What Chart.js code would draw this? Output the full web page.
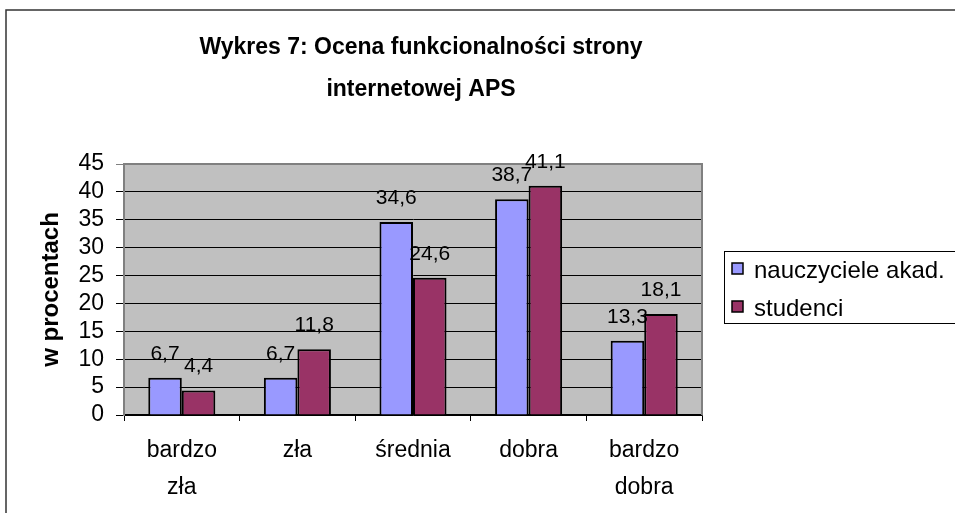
<!DOCTYPE html>
<html>
<head>
<meta charset="utf-8">
<script src="https://cdn.jsdelivr.net/npm/chart.js@4/dist/chart.umd.min.js"></script>
<style>
  html, body { margin: 0; padding: 0; background: #fff; }
</style>
</head>
<body>
<canvas id="myChart" width="955" height="513"></canvas>
<script>
// --- data
const categories = [['bardzo', 'zła'], 'zła', 'średnia', 'dobra', ['bardzo', 'dobra']];
const teachers = [6.7, 6.7, 34.6, 38.7, 13.3];
const students = [4.4, 11.8, 24.6, 41.1, 18.1];
const seriesNames = ['nauczyciele akad.', 'studenci'];
const titleLines = ['Wykres 7: Ocena funkcionalności strony', 'internetowej APS'];
const yTitle = 'w procentach';

const FONT = '"Liberation Sans", Arial, sans-serif';

// frame, plot background, title, value labels and boxed legend
const decorPlugin = {
    id: 'decor',
    beforeDraw: function (chart) {
        const c = chart.ctx, a = chart.chartArea;
        c.save();
        c.fillStyle = '#fff';
        c.fillRect(0, 0, chart.width, chart.height);
        c.fillStyle = '#C0C0C0';
        c.fillRect(a.left, a.top, a.right - a.left, a.bottom - a.top);
        // outer frame
        c.strokeStyle = '#333';
        c.lineWidth = 1.5;
        c.beginPath();
        c.moveTo(6, chart.height + 2);
        c.lineTo(6, 10);
        c.lineTo(chart.width + 2, 10);
        c.stroke();
        c.restore();
    },
    afterDatasetsDraw: function (chart) {
        const c = chart.ctx, a = chart.chartArea;
        c.save();
        // plot border
        c.strokeStyle = '#808080';
        c.lineWidth = 2;
        c.beginPath();
        c.moveTo(a.left, a.top);
        c.lineTo(a.right, a.top);
        c.lineTo(a.right, a.bottom);
        c.stroke();

        // value labels
        c.fillStyle = '#000';
        c.font = '21px ' + FONT;
        c.textAlign = 'center';
        c.textBaseline = 'alphabetic';
        chart.data.datasets.forEach(function (ds, i) {
            chart.getDatasetMeta(i).data.forEach(function (bar, j) {
                const txt = String(ds.data[j]).replace('.', ',');
                c.fillText(txt, bar.x, bar.y - 18);
            });
        });

        // title
        c.font = 'bold 23px ' + FONT;
        c.fillText(titleLines[0], 421, 54);
        c.fillText(titleLines[1], 421, 96);

        // legend
        c.strokeStyle = '#000';
        c.lineWidth = 1;
        c.strokeRect(724.5, 251.5, 240, 72);
        c.font = '24px ' + FONT;
        c.textAlign = 'left';
        chart.data.datasets.forEach(function (ds, i) {
            const base = 278 + i * 38;
            c.fillStyle = ds.backgroundColor;
            c.fillRect(732, base - 15, 11, 11);
            c.strokeStyle = '#000';
            c.lineWidth = 1.5;
            c.strokeRect(732, base - 15, 11, 11);
            c.fillStyle = '#000';
            c.fillText(ds.label, 754, base);
        });
        c.restore();
    }
};

const ctx = document.getElementById('myChart');

new Chart(ctx, {
    type: 'bar',
    data: {
        labels: categories,
        datasets: [{
            label: seriesNames[0],
            data: teachers,
            backgroundColor: '#9999FF',
            borderColor: '#000',
            borderWidth: 2,
            borderSkipped: 'bottom'
        }, {
            label: seriesNames[1],
            data: students,
            backgroundColor: '#993366',
            borderColor: '#000',
            borderWidth: 2,
            borderSkipped: 'bottom'
        }]
    },
    options: {
        responsive: false,
        animation: false,
        layout: { padding: { left: 0, top: 164, right: 253, bottom: 0 } },
        datasets: { bar: { categoryPercentage: 0.58, barPercentage: 1.0 } },
        plugins: {
            legend: { display: false },
            title: { display: false },
            tooltip: { enabled: false }
        },
        scales: {
            x: {
                afterFit: function (scale) { scale.height = 98; },
                grid: { drawOnChartArea: false, color: '#000', tickLength: 6, offset: true },
                border: { color: '#000', width: 1.5 },
                ticks: {
                    color: '#000',
                    padding: 11,
                    font: { family: FONT, size: 23, lineHeight: 1.6 }
                }
            },
            y: {
                min: 0,
                max: 45,
                afterFit: function (scale) { scale.width = 124; },
                grid: {
                    color: function (c) { return c.tick.value === 45 ? '#808080' : '#000'; },
                    lineWidth: 1,
                    tickLength: 8
                },
                border: { color: '#808080', width: 2 },
                ticks: {
                    stepSize: 5,
                    autoSkip: false,
                    color: '#000',
                    padding: 12,
                    font: { family: FONT, size: 23, lineHeight: 1 }
                },
                title: {
                    display: true,
                    text: yTitle,
                    color: '#000',
                    padding: { top: 37, bottom: 0 },
                    font: { family: FONT, size: 24, weight: 'bold' }
                }
            }
        }
    },
    plugins: [decorPlugin]
});
</script>
</body>
</html>
